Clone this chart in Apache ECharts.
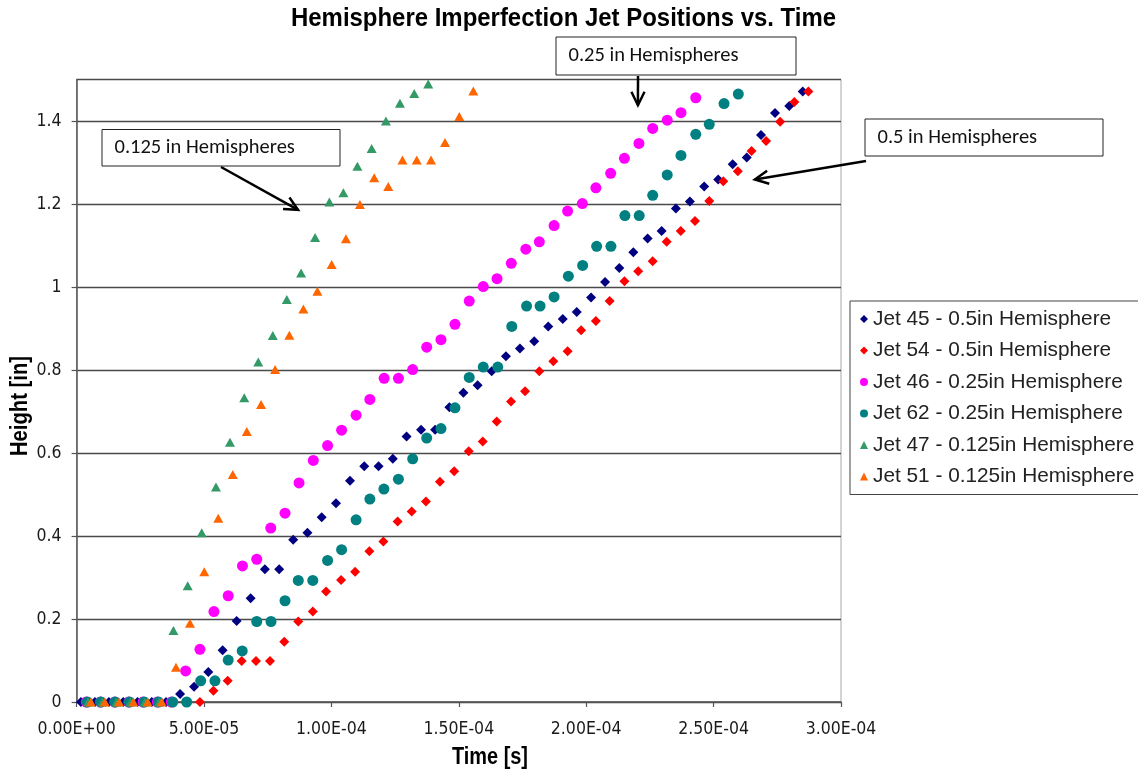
<!DOCTYPE html>
<html>
<head>
<meta charset="utf-8">
<script src="https://cdn.jsdelivr.net/npm/echarts@6/dist/echarts.min.js"></script>
<style>
  html, body { margin: 0; padding: 0; background: #ffffff; }
  #chart { width: 1138px; height: 774px; }
</style>
</head>
<body>
<div id="chart"></div>
<script>
// ---- Measured jet heights [in] vs. time (times stored in microseconds) ----
const jet45TimeUs = [1.7,7.2,12.7,18.3,23.9,29.5,35.1,40.6,46.1,51.7,57.3,62.8,68.3,73.9,79.5,85.0,90.6,96.2,101.8,107.3,112.9,118.5,124.1,129.5,135.2,140.7,146.3,151.8,157.4,162.9,168.5,174.0,179.6,185.1,190.8,196.3,201.9,207.4,213.0,218.5,224.1,229.6,235.2,240.7,246.3,251.8,257.5,263.0,268.6,274.1,279.7,285.0];
const jet45Height = [0,0,0,0,0,0,0,0.019,0.037,0.072,0.125,0.195,0.250,0.320,0.320,0.391,0.408,0.445,0.479,0.533,0.568,0.568,0.586,0.640,0.656,0.656,0.710,0.745,0.763,0.797,0.833,0.852,0.869,0.905,0.923,0.940,0.975,1.012,1.046,1.084,1.117,1.135,1.189,1.206,1.242,1.259,1.296,1.312,1.366,1.419,1.436,1.471];

const jet54TimeUs = [4.0,9.6,15.1,20.7,26.2,31.8,37.3,42.9,48.4,53.7,59.3,64.8,70.4,75.9,81.5,87.0,92.7,97.9,103.8,109.3,114.9,120.4,126.0,131.5,137.1,142.6,148.2,153.9,159.4,164.9,170.5,176.0,181.6,187.1,192.7,198.0,203.8,209.2,215.0,220.4,226.1,231.6,237.1,242.7,248.3,253.8,259.5,264.9,270.6,276.1,281.7,287.2];
const jet54Height = [0,0,0,0,0,0,0,0,0,0.027,0.051,0.099,0.099,0.099,0.145,0.194,0.218,0.266,0.294,0.314,0.363,0.387,0.435,0.459,0.483,0.531,0.556,0.604,0.628,0.676,0.724,0.749,0.797,0.821,0.845,0.896,0.918,0.966,1.014,1.038,1.062,1.109,1.135,1.159,1.207,1.255,1.279,1.328,1.352,1.398,1.446,1.471];

const jet46TimeUs = [3.8,9.4,15.0,20.5,26.1,31.7,37.2,42.8,48.4,53.9,59.5,65.1,70.7,76.2,81.8,87.3,92.9,98.5,104.0,109.7,115.1,120.7,126.3,131.9,137.4,143.0,148.5,154.1,159.6,165.0,170.6,176.3,181.6,187.4,192.7,198.5,203.8,209.6,215.0,220.7,226.1,231.8,237.2,243.0];
const jet46Height = [0,0,0,0,0,0,0,0.075,0.127,0.218,0.256,0.328,0.344,0.419,0.455,0.528,0.582,0.618,0.655,0.691,0.729,0.780,0.780,0.801,0.855,0.873,0.910,0.966,1.001,1.020,1.057,1.091,1.109,1.148,1.183,1.201,1.239,1.274,1.310,1.346,1.382,1.402,1.420,1.456];

const jet62TimeUs = [4.2,9.5,15.1,20.7,26.5,32.1,37.7,43.2,48.7,54.3,59.5,65.0,70.7,76.3,81.8,87.0,92.7,98.5,104.0,109.7,115.1,120.6,126.3,131.9,137.4,143.0,148.5,154.1,159.6,165.3,170.8,176.6,181.9,187.4,193.0,198.6,204.1,209.7,215.2,220.8,226.1,231.8,237.2,243.0,248.3,254.1,259.7];
const jet62Height = [0,0,0,0,0,0,0,0,0.051,0.051,0.101,0.123,0.194,0.194,0.244,0.293,0.293,0.341,0.367,0.439,0.489,0.513,0.537,0.586,0.636,0.659,0.709,0.782,0.807,0.807,0.905,0.954,0.954,0.976,1.026,1.052,1.098,1.098,1.172,1.172,1.221,1.270,1.317,1.368,1.392,1.442,1.465];

const jet47TimeUs = [4.5,10.1,15.7,21.2,26.8,32.4,38.0,43.6,49.1,54.7,60.2,65.8,71.3,77.0,82.5,88.1,93.6,99.2,104.7,110.2,115.8,121.4,126.9,132.5,138.0];
const jet47Height = [0,0,0,0,0,0,0.172,0.280,0.408,0.518,0.626,0.733,0.819,0.883,0.970,1.034,1.119,1.205,1.227,1.291,1.334,1.400,1.443,1.466,1.489];

const jet51TimeUs = [5.6,11.1,16.7,22.3,27.9,33.4,39.0,44.5,50.1,55.6,61.3,66.8,72.4,77.9,83.5,89.0,94.5,100.1,105.7,111.2,116.8,122.3,127.9,133.5,139.1,144.6,150.2,155.7];
const jet51Height = [0,0,0,0,0,0,0.084,0.190,0.314,0.443,0.548,0.652,0.717,0.801,0.884,0.947,0.990,1.054,1.116,1.199,1.263,1.242,1.306,1.306,1.306,1.348,1.411,1.472];

const seriesNames = [
  'Jet 45 - 0.5in Hemisphere',
  'Jet 54 - 0.5in Hemisphere',
  'Jet 46 - 0.25in Hemisphere',
  'Jet 62 - 0.25in Hemisphere',
  'Jet 47 - 0.125in Hemisphere',
  'Jet 51 - 0.125in Hemisphere'
];

// Axis ranges / tick steps
const timeMin = 0, timeMax = 3e-4, timeStep = 5e-5;
const heightMin = 0, heightMax = 1.5, heightStep = 0.2;

// Callout notes: text and where each arrow points (data units)
const calloutTexts = ['0.125 in Hemispheres', '0.25 in Hemispheres', '0.5 in Hemispheres'];
const calloutTargets = [[86.9e-6, 1.186], [220.3e-6, 1.438], [266.2e-6, 1.259]];

// ---- helpers ----
const NARROW = '"Liberation Sans Narrow", "DejaVu Sans Condensed", "Liberation Sans", Arial, sans-serif';
const REGULAR = '"Liberation Sans", Arial, sans-serif';
const NOTE_FONT = 'Carlito, Lato, "Open Sans", sans-serif';

function toPairs(timesUs, heights) {
  return timesUs.map((t, i) => [t * 1e-6, heights[i]]);
}

function sciLabel(v) {
  if (Math.abs(v) < 1e-12) return '0.00E+00';
  let exp = Math.floor(Math.log10(Math.abs(v)));
  let mant = v / Math.pow(10, exp);
  if (Math.abs(mant) >= 9.995) { mant /= 10; exp += 1; }
  const e = Math.abs(exp);
  return mant.toFixed(2) + 'E' + (exp < 0 ? '-' : '+') + (e < 10 ? '0' + e : String(e));
}

// horizontal squeeze factor so a bold heading takes a given width
const measureCtx = document.createElement('canvas').getContext('2d');
function squeeze(text, font, width) {
  measureCtx.font = font;
  const w = measureCtx.measureText(text).width;
  return w > 0 ? Math.min(1, width / w) : 1;
}

const chart = echarts.init(document.getElementById('chart'), null, { renderer: 'canvas' });

const styles = [
  { color: '#000080', symbol: 'diamond', size: 10 },
  { color: '#FF0000', symbol: 'diamond', size: 10 },
  { color: '#FF00FF', symbol: 'circle', size: 11 },
  { color: '#008080', symbol: 'circle', size: 11 },
  { color: '#339966', symbol: 'triangle', size: [10, 9] },
  { color: '#FF6600', symbol: 'triangle', size: [10, 9] }
];
const dataSets = [
  toPairs(jet45TimeUs, jet45Height),
  toPairs(jet54TimeUs, jet54Height),
  toPairs(jet46TimeUs, jet46Height),
  toPairs(jet62TimeUs, jet62Height),
  toPairs(jet47TimeUs, jet47Height),
  toPairs(jet51TimeUs, jet51Height)
];

// split lines: dark for the labelled levels, light for the top edge
const nSplit = Math.round((heightMax - heightMin) / heightStep) + 2;
const splitColors = [];
for (let i = 0; i < nSplit; i++) splitColors.push(i === nSplit - 1 ? '#b0b0b0' : '#4a4a4a');

chart.setOption({
  animation: false,
  backgroundColor: '#ffffff',
  grid: {
    left: 76.6, right: 297, top: 79.5, bottom: 72,
    show: true, borderColor: '#a8a8a8', borderWidth: 1, backgroundColor: '#ffffff'
  },
  xAxis: {
    type: 'value',
    min: timeMin, max: timeMax, interval: timeStep,
    axisLine: { show: true, lineStyle: { color: '#555555', width: 1.5 } },
    axisTick: { show: true, inside: false, length: 5, lineStyle: { color: '#555555', width: 1.2 } },
    splitLine: { show: false },
    axisLabel: {
      formatter: sciLabel, fontFamily: NARROW, fontSize: 17.5, color: '#1a1a1a', margin: 18,
      showMinLabel: true, showMaxLabel: true
    }
  },
  yAxis: {
    type: 'value',
    min: heightMin, max: heightMax, interval: heightStep,
    axisLine: { show: true, lineStyle: { color: '#555555', width: 1.5 } },
    axisTick: { show: true, inside: false, length: 5, lineStyle: { color: '#555555', width: 1.2 } },
    splitLine: { show: true, lineStyle: { color: splitColors, width: 1.4 } },
    axisLabel: { fontFamily: NARROW, fontSize: 17.5, color: '#1a1a1a', margin: 15, showMaxLabel: false }
  },
  legend: {
    orient: 'vertical',
    left: 850, top: 301,
    padding: [6, 60, 6, 10],
    itemGap: 7.5,
    itemWidth: 8, itemHeight: 8,
    borderColor: '#444444', borderWidth: 1,
    backgroundColor: '#ffffff',
    textStyle: { fontFamily: REGULAR, fontSize: 20.8, color: '#222222', lineHeight: 24 },
    data: seriesNames
  },
  series: seriesNames.map((name, i) => ({
    name: name,
    type: 'scatter',
    symbol: styles[i].symbol,
    symbolSize: styles[i].size,
    itemStyle: { color: styles[i].color, opacity: 1 },
    emphasis: { disabled: true },
    data: dataSets[i]
  }))
});

// ---- titles and callouts ----
const boxes = [
  { x: 102, y: 129.5, w: 238, h: 36.5 },
  { x: 556, y: 37, w: 240, h: 38 },
  { x: 865, y: 119, w: 238, h: 37 }
];
const tails = [[221, 167], [638, 76], [866, 161]];

const titleText = 'Hemisphere Imperfection Jet Positions vs. Time';
const titleFont = 'bold 25px "Liberation Sans", Arial, sans-serif';
const xNameText = 'Time [s]';
const yNameText = 'Height [in]';
const nameFont = 'bold 23px "Liberation Sans", Arial, sans-serif';

const graphics = [
  {
    type: 'text', x: 563.5, y: 19, z: 10, scaleX: squeeze(titleText, titleFont, 545),
    style: { text: titleText, font: titleFont, textAlign: 'center', textVerticalAlign: 'middle', fill: '#000000' }
  },
  {
    type: 'text', x: 490, y: 758, z: 10, scaleX: squeeze(xNameText, nameFont, 76),
    style: { text: xNameText, font: nameFont, textAlign: 'center', textVerticalAlign: 'middle', fill: '#000000' }
  },
  {
    type: 'text', x: 21, y: 406, rotation: Math.PI / 2, z: 10, scaleX: squeeze(yNameText, nameFont, 100),
    style: { text: yNameText, font: nameFont, textAlign: 'center', textVerticalAlign: 'middle', fill: '#000000' }
  }
];

calloutTexts.forEach((txt, i) => {
  const b = boxes[i];
  graphics.push({
    type: 'rect', z: 20,
    shape: { x: b.x, y: b.y, width: b.w, height: b.h },
    style: { fill: '#ffffff', stroke: '#222222', lineWidth: 1 }
  });
  graphics.push({
    type: 'text', z: 21, x: b.x + 12.5, y: b.y + b.h / 2,
    style: { text: txt, font: '20.5px ' + NOTE_FONT, textAlign: 'left', textVerticalAlign: 'middle', fill: '#111111' }
  });
  const tip = chart.convertToPixel({ gridIndex: 0 }, calloutTargets[i]);
  const tail = tails[i];
  const ang = Math.atan2(tail[1] - tip[1], tail[0] - tip[0]);
  const legLen = 15, spread = 26 * Math.PI / 180;
  const p1 = [tip[0] + legLen * Math.cos(ang - spread), tip[1] + legLen * Math.sin(ang - spread)];
  const p2 = [tip[0] + legLen * Math.cos(ang + spread), tip[1] + legLen * Math.sin(ang + spread)];
  graphics.push({
    type: 'line', z: 22,
    shape: { x1: tail[0], y1: tail[1], x2: tip[0], y2: tip[1] },
    style: { stroke: '#000000', lineWidth: 2.5 }
  });
  graphics.push({
    type: 'polyline', z: 22,
    shape: { points: [p1, tip, p2] },
    style: { stroke: '#000000', lineWidth: 2.5, fill: null, lineJoin: 'miter' }
  });
});

chart.setOption({ graphic: graphics });
</script>
</body>
</html>
